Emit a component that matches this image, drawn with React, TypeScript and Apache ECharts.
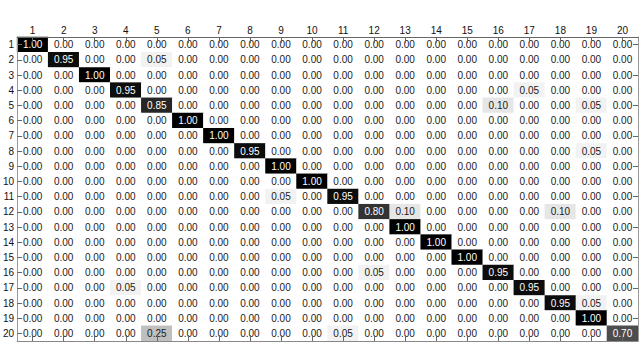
import React, { useEffect, useRef } from "react";
import * as echarts from "echarts";

const classLabels: string[] = Array.from({ length: 20 }, (_, i) => String(i + 1));

// Confusion matrix rows (true class 1..20), columns (predicted class 1..20)
const row01 = [1.0, 0, 0, 0, 0, 0, 0, 0, 0, 0, 0, 0, 0, 0, 0, 0, 0, 0, 0, 0];
const row02 = [0, 0.95, 0, 0, 0.05, 0, 0, 0, 0, 0, 0, 0, 0, 0, 0, 0, 0, 0, 0, 0];
const row03 = [0, 0, 1.0, 0, 0, 0, 0, 0, 0, 0, 0, 0, 0, 0, 0, 0, 0, 0, 0, 0];
const row04 = [0, 0, 0, 0.95, 0, 0, 0, 0, 0, 0, 0, 0, 0, 0, 0, 0, 0.05, 0, 0, 0];
const row05 = [0, 0, 0, 0, 0.85, 0, 0, 0, 0, 0, 0, 0, 0, 0, 0, 0.1, 0, 0, 0.05, 0];
const row06 = [0, 0, 0, 0, 0, 1.0, 0, 0, 0, 0, 0, 0, 0, 0, 0, 0, 0, 0, 0, 0];
const row07 = [0, 0, 0, 0, 0, 0, 1.0, 0, 0, 0, 0, 0, 0, 0, 0, 0, 0, 0, 0, 0];
const row08 = [0, 0, 0, 0, 0, 0, 0, 0.95, 0, 0, 0, 0, 0, 0, 0, 0, 0, 0, 0.05, 0];
const row09 = [0, 0, 0, 0, 0, 0, 0, 0, 1.0, 0, 0, 0, 0, 0, 0, 0, 0, 0, 0, 0];
const row10 = [0, 0, 0, 0, 0, 0, 0, 0, 0, 1.0, 0, 0, 0, 0, 0, 0, 0, 0, 0, 0];
const row11 = [0, 0, 0, 0, 0, 0, 0, 0, 0.05, 0, 0.95, 0, 0, 0, 0, 0, 0, 0, 0, 0];
const row12 = [0, 0, 0, 0, 0, 0, 0, 0, 0, 0, 0, 0.8, 0.1, 0, 0, 0, 0, 0.1, 0, 0];
const row13 = [0, 0, 0, 0, 0, 0, 0, 0, 0, 0, 0, 0, 1.0, 0, 0, 0, 0, 0, 0, 0];
const row14 = [0, 0, 0, 0, 0, 0, 0, 0, 0, 0, 0, 0, 0, 1.0, 0, 0, 0, 0, 0, 0];
const row15 = [0, 0, 0, 0, 0, 0, 0, 0, 0, 0, 0, 0, 0, 0, 1.0, 0, 0, 0, 0, 0];
const row16 = [0, 0, 0, 0, 0, 0, 0, 0, 0, 0, 0, 0.05, 0, 0, 0, 0.95, 0, 0, 0, 0];
const row17 = [0, 0, 0, 0.05, 0, 0, 0, 0, 0, 0, 0, 0, 0, 0, 0, 0, 0.95, 0, 0, 0];
const row18 = [0, 0, 0, 0, 0, 0, 0, 0, 0, 0, 0, 0, 0, 0, 0, 0, 0, 0.95, 0.05, 0];
const row19 = [0, 0, 0, 0, 0, 0, 0, 0, 0, 0, 0, 0, 0, 0, 0, 0, 0, 0, 1.0, 0];
const row20 = [0, 0, 0, 0, 0.25, 0, 0, 0, 0, 0, 0.05, 0, 0, 0, 0, 0, 0, 0, 0, 0.7];

const matrixRows = [
  row01, row02, row03, row04, row05, row06, row07, row08, row09, row10,
  row11, row12, row13, row14, row15, row16, row17, row18, row19, row20,
];

const FONT = "Liberation Sans, Arial, Helvetica, sans-serif";

export default function App() {
  const ref = useRef<HTMLDivElement>(null);

  useEffect(() => {
    if (!ref.current) return;
    const chart = echarts.init(ref.current, null, { renderer: "svg" });

    const data: any[] = [];
    matrixRows.forEach((row, r) => {
      row.forEach((v, c) => {
        data.push({
          value: [c, r, v],
          label: { color: v > 0.5 ? "#ffffff" : "#1a1a1a" },
        });
      });
    });

    const tickStyle = { show: true, inside: true, length: 6, alignWithLabel: true, lineStyle: { color: "#666", width: 1 } };

    chart.setOption({
      animation: false,
      backgroundColor: "#ffffff",
      grid: { left: 12, right: 2, top: 37, bottom: 1, containLabel: false },
      xAxis: [
        {
          type: "category",
          data: classLabels,
          position: "top",
          z: 10,
          axisLine: { show: true, lineStyle: { color: "#666", width: 1 } },
          axisTick: tickStyle,
          axisLabel: { fontFamily: FONT, fontSize: 10, color: "#111", margin: 2 },
          splitLine: { show: false },
        },
        {
          type: "category",
          data: classLabels,
          position: "bottom",
          z: 10,
          axisLine: { show: true, lineStyle: { color: "#888", width: 1 } },
          axisTick: tickStyle,
          axisLabel: { show: false },
          splitLine: { show: false },
        },
      ],
      yAxis: [
        {
          type: "category",
          data: classLabels,
          inverse: true,
          position: "left",
          z: 10,
          axisLine: { show: true, lineStyle: { color: "#999", width: 1 } },
          axisTick: { ...tickStyle, length: 5 },
          axisLabel: { fontFamily: FONT, fontSize: 10, color: "#111", margin: 3 },
          splitLine: { show: false },
        },
        {
          type: "category",
          data: classLabels,
          inverse: true,
          position: "right",
          z: 10,
          axisLine: { show: true, lineStyle: { color: "#999", width: 1 } },
          axisTick: { ...tickStyle, length: 5 },
          axisLabel: { show: false },
          splitLine: { show: false },
        },
      ],
      visualMap: {
        show: false,
        min: 0,
        max: 1,
        dimension: 2,
        inRange: { color: ["#ffffff", "#000000"] },
      },
      series: [
        {
          type: "heatmap",
          xAxisIndex: 0,
          yAxisIndex: 0,
          data,
          label: {
            show: true,
            fontFamily: FONT,
            fontSize: 10,
            formatter: (p: any) => Number(p.value[2]).toFixed(2),
          },
          itemStyle: { borderWidth: 0 },
          emphasis: { disabled: true },
        },
      ],
    });

    return () => chart.dispose();
  }, []);

  return (
    <div
      ref={ref}
      style={{ position: "fixed", left: 0, top: 0, width: 640, height: 342 }}
    />
  );
}
